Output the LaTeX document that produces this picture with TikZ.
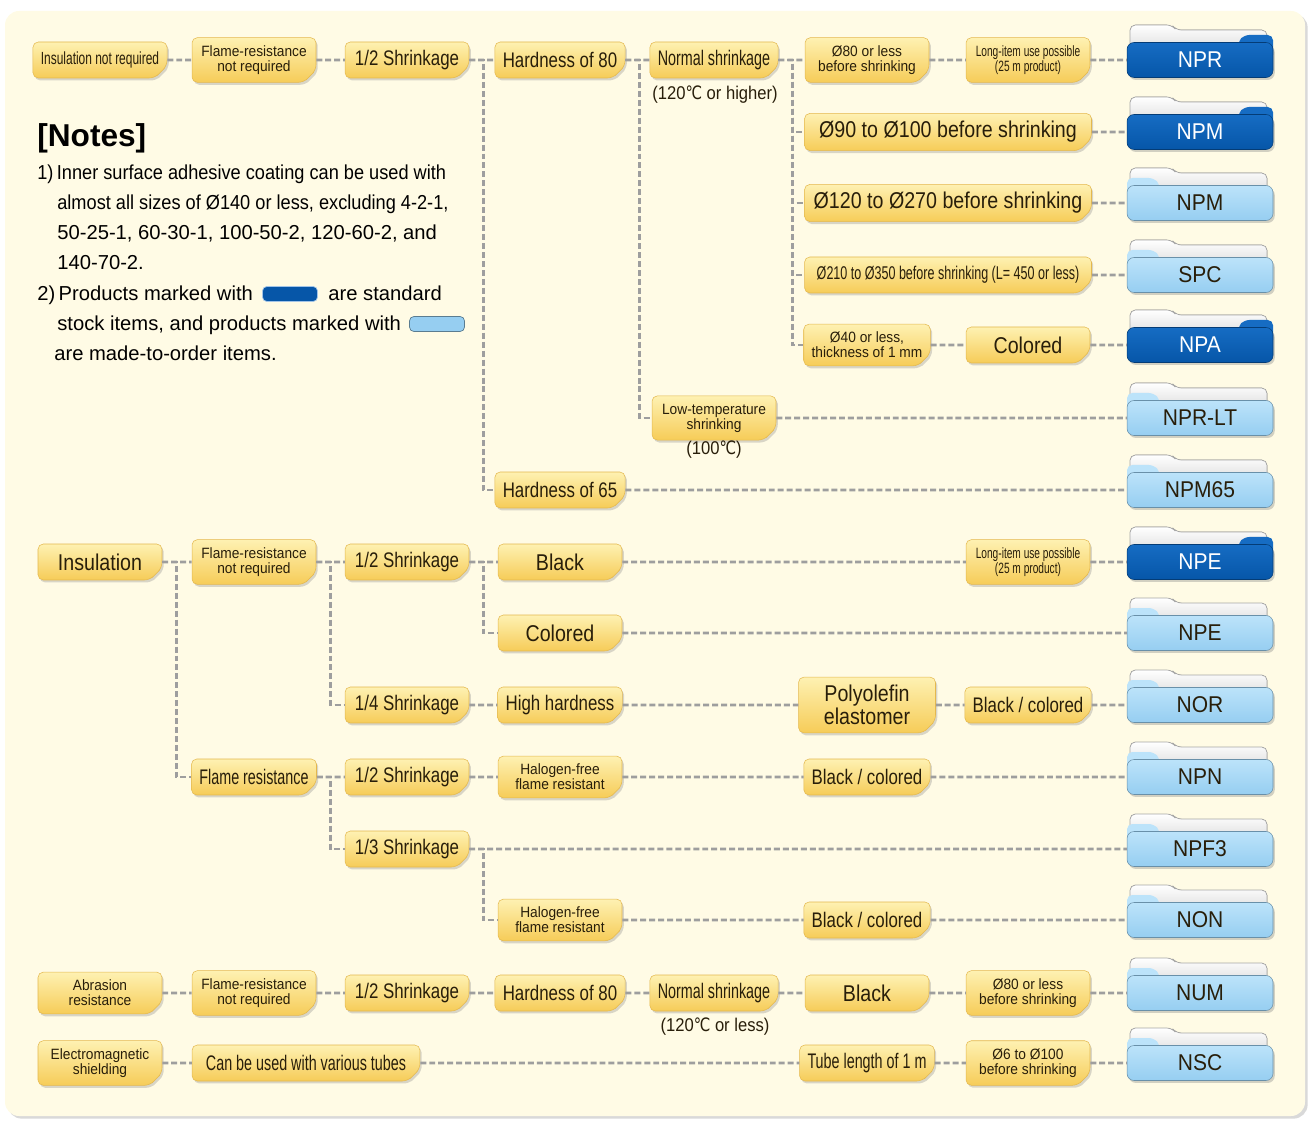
\documentclass[tikz,border=0pt]{standalone}
\usepackage{fontspec}
\setmainfont{Liberation Sans}
\newfontfamily\narrow[FakeStretch=0.8]{Liberation Sans}
\newfontfamily\xnarrow[FakeStretch=0.68]{Liberation Sans}
\newfontfamily\midfont[FakeStretch=0.86]{Liberation Sans}
\newfontfamily\smallfont[FakeStretch=0.92]{Liberation Sans}
\newfontfamily\notefont[FakeStretch=0.9]{Liberation Sans}
\newfontfamily\degfont[FakeStretch=0.8]{DejaVu Sans}
\usetikzlibrary{shapes.misc,shadows}

\definecolor{panel}{RGB}{255,251,229}
\definecolor{boxtop}{RGB}{254,241,178}
\definecolor{boxbot}{RGB}{246,204,88}
\definecolor{boxedge}{RGB}{228,184,78}
\definecolor{ink}{RGB}{40,30,10}
\definecolor{linkgray}{RGB}{158,158,158}
\definecolor{stocktop}{RGB}{22,108,195}
\definecolor{stockbot}{RGB}{6,86,168}
\definecolor{ordertop}{RGB}{188,227,250}
\definecolor{orderbot}{RGB}{150,206,241}

\def\degc{{\degfont ℃}}

\begin{document}
\begin{tikzpicture}[x=0.02cm,y=-0.02cm,
    link/.style={draw=linkgray,line width=1.6pt,dash pattern=on 3.4pt off 1.7pt},
    optbox/.style={chamfered rectangle,chamfered rectangle corners=south east,
      chamfered rectangle xsep=3.5pt,chamfered rectangle ysep=3.5pt,rounded corners=3pt,
      draw=boxedge,line width=0.3pt,top color=boxtop,bottom color=boxbot,
      minimum width=2.48cm,minimum height=0.72cm,inner sep=1pt,text=ink,align=center,
      font=\narrow\fontsize{12}{12}\selectfont,
      drop shadow={shadow xshift=1pt,shadow yshift=-1.4pt,opacity=0.3}},
    optmid/.style={optbox,font=\midfont\fontsize{13}{12}\selectfont},
    optthin/.style={optbox,font=\xnarrow\fontsize{12}{12}\selectfont},
    optsmall/.style={optbox,font=\smallfont\fontsize{8.5}{8.5}\selectfont},
    optxsmall/.style={optbox,font=\xnarrow\fontsize{8.5}{8.5}\selectfont},
    stockbox/.style={rectangle,rounded corners=4pt,draw=stockbot!70!black,line width=0.3pt,
      top color=stocktop,bottom color=stockbot,text=white,
      minimum width=2.92cm,minimum height=0.7cm,inner sep=0pt,
      font=\smallfont\fontsize{13}{13}\selectfont,
      drop shadow={shadow xshift=1pt,shadow yshift=-1.4pt,opacity=0.35}},
    orderbox/.style={stockbox,draw=orderbot!70!black,top color=ordertop,bottom color=orderbot,
      text=ink},
    notetext/.style={anchor=base west,inner sep=0pt,font=\fontsize{11.5}{11.5}\selectfont},
    tempnote/.style={inner sep=0pt,text=ink,font=\notefont\fontsize{10.5}{10.5}\selectfont}]

  \def\backsheet(#1,#2){
    \filldraw[draw=black!35,line width=0.4pt,top color=white,bottom color=black!18,rounded corners=3pt]
      (#1-70,#2) -- (#1-70,#2-35) -- (#1-28,#2-35) -- (#1-24,#2-30) -- (#1+67,#2-30) -- (#1+67,#2) -- cycle;
  }
  \def\stockitem(#1,#2)#3#4{
    \backsheet(#1,#2)
    \fill[stocktop,rounded corners=3pt]
      (#1+38,#2) -- (#1+38,#2-18) -- (#1+44,#2-25) -- (#1+73,#2-25) -- (#1+73,#2) -- cycle;
    \node[stockbox] (#3) at (#1,#2) {#4};
  }
  \def\orderitem(#1,#2)#3#4{
    \backsheet(#1,#2)
    \fill[ordertop,rounded corners=3pt]
      (#1-73,#2) -- (#1-73,#2-25) -- (#1-46,#2-25) -- (#1-40,#2-18) -- (#1-40,#2) -- cycle;
    \node[orderbox] (#3) at (#1,#2) {#4};
  }

  \useasboundingbox (0,0) rectangle (1311,1124);
  \fill[panel,rounded corners=8pt,drop shadow={shadow xshift=1.5pt,shadow yshift=-1.5pt,opacity=0.3}]
    (5,11) rectangle (1305,1116);

  % notes
  \node[notetext,font=\bfseries\fontsize{18}{18}\selectfont] (notes) at (37,147) {[Notes]};
  \node[notetext,font=\notefont\fontsize{11.5}{11.5}\selectfont] (n1) at (37,180) {1)\,Inner surface adhesive coating can be used with};
  \node[notetext,font=\notefont\fontsize{11.5}{11.5}\selectfont] (n2) at (57,210) {almost all sizes of Ø140 or less, excluding 4-2-1,};
  \node[notetext] (n3) at (57,240) {50-25-1, 60-30-1, 100-50-2, 120-60-2, and};
  \node[notetext] (n4) at (57,270) {140-70-2.};
  \node[notetext] (n5) at (37,301) {2)\,Products marked with};
  \node[notetext] (n5b) at (328,301) {are standard};
  \node[notetext] (n6) at (57,331) {stock items, and products marked with};
  \node[notetext] (n7) at (54,361) {are made-to-order items.};
  \node[rectangle,rounded corners=2.5pt,draw=white!60!stocktop,fill=stockbot,
    minimum width=1.1cm,minimum height=0.3cm,inner sep=0pt] (mk1) at (290,294) {};
  \node[rectangle,rounded corners=2.5pt,draw=orderbot!60!black,fill=orderbot,
    minimum width=1.1cm,minimum height=0.3cm,inner sep=0pt] (mk2) at (437,324) {};

  % insulation not required
  \node[optthin,font=\xnarrow\fontsize{10}{10}\selectfont] (ins1) at (100,60) {Insulation not required};
  \node[optsmall] (flr1) at (254,60) {Flame-resistance\\not required};
  \node[optbox] (sh1) at (407,60) {1/2 Shrinkage};
  \node[optbox] (h80) at (560,60) {Hardness of 80};
  \node[optthin] (norm) at (714,60) {Normal shrinkage};
  \node[tempnote] (t1) at (715,95) {(120\degc\ or higher)};
  \node[optsmall] (d80) at (867,60) {Ø80 or less\\before shrinking};
  \node[optxsmall] (long1) at (1028,60) {Long-item use possible\\(25 m product)};
  \stockitem(1200,60){npr}{NPR}

  \node[optmid,minimum width=5.74cm] (d90) at (948,132) {Ø90 to Ø100 before shrinking};
  \stockitem(1200,132){npm1}{NPM}
  \node[optmid,minimum width=5.74cm] (d120) at (948,203) {Ø120 to Ø270 before shrinking};
  \orderitem(1200,203){npm2}{NPM}
  \node[optthin,minimum width=5.74cm,font=\xnarrow\fontsize{10.5}{10.5}\selectfont] (d210) at (948,275)
    {Ø210 to Ø350 before shrinking (L= 450 or less)};
  \orderitem(1200,275){spc}{SPC}
  \node[optsmall] (d40) at (867,345) {Ø40 or less,\\thickness of 1 mm};
  \node[optmid] (col1) at (1028,345) {Colored};
  \stockitem(1200,345){npa}{NPA}
  \node[optsmall] (low) at (714,418) {Low-temperature\\shrinking};
  \node[tempnote] (t2) at (714,450) {(100\degc)};
  \orderitem(1200,418){nprlt}{NPR-LT}
  \node[optbox] (h65) at (560,490) {Hardness of 65};
  \orderitem(1200,490){npm65}{NPM65}

  % insulation
  \node[optmid] (ins2) at (100,562) {Insulation};
  \node[optsmall] (flr2) at (254,562) {Flame-resistance\\not required};
  \node[optbox] (sh2) at (407,562) {1/2 Shrinkage};
  \node[optmid] (blk1) at (560,562) {Black};
  \node[optxsmall] (long2) at (1028,562) {Long-item use possible\\(25 m product)};
  \stockitem(1200,562){npe1}{NPE}
  \node[optmid] (col2) at (560,633) {Colored};
  \orderitem(1200,633){npe2}{NPE}
  \node[optbox] (sh4) at (407,705) {1/4 Shrinkage};
  \node[optbox] (hh) at (560,705) {High hardness};
  \node[optmid,minimum width=2.74cm,minimum height=1.04cm] (poe) at (867,705) {Polyolefin\\elastomer};
  \node[optbox] (bc1) at (1028,705) {Black / colored};
  \orderitem(1200,705){nor}{NOR}
  \node[optthin] (fr) at (254,777) {Flame resistance};
  \node[optbox] (sh5) at (407,777) {1/2 Shrinkage};
  \node[optsmall] (hf1) at (560,777) {Halogen-free\\flame resistant};
  \node[optbox] (bc2) at (867,777) {Black / colored};
  \orderitem(1200,777){npn}{NPN}
  \node[optbox] (sh3) at (407,849) {1/3 Shrinkage};
  \orderitem(1200,849){npf3}{NPF3}
  \node[optsmall] (hf2) at (560,920) {Halogen-free\\flame resistant};
  \node[optbox] (bc3) at (867,920) {Black / colored};
  \orderitem(1200,920){non}{NON}

  % abrasion resistance, shielding
  \node[optsmall] (abr) at (100,993) {Abrasion\\resistance};
  \node[optsmall] (flr3) at (254,993) {Flame-resistance\\not required};
  \node[optbox] (sh6) at (407,993) {1/2 Shrinkage};
  \node[optbox] (h80b) at (560,993) {Hardness of 80};
  \node[optthin] (norm2) at (714,993) {Normal shrinkage};
  \node[tempnote] (t3) at (715,1027) {(120\degc\ or less)};
  \node[optmid] (blk2) at (867,993) {Black};
  \node[optsmall] (d80b) at (1028,993) {Ø80 or less\\before shrinking};
  \orderitem(1200,993){num}{NUM}
  \node[optsmall] (ems) at (100,1063) {Electromagnetic\\shielding};
  \node[optthin,minimum width=4.56cm] (tubes) at (306,1063) {Can be used with various tubes};
  \node[optthin] (tl) at (867,1063) {Tube length of 1 m};
  \node[optsmall] (d6) at (1028,1063) {Ø6 to Ø100\\before shrinking};
  \orderitem(1200,1063){nsc}{NSC}

  % connectors
  \foreach \a/\b in {ins1/flr1,flr1/sh1,sh1/h80,h80/norm,norm/d80,d80/long1,long1/npr,
      d90/npm1,d120/npm2,d210/spc,d40/col1,col1/npa,low/nprlt,h65/npm65,
      ins2/flr2,flr2/sh2,sh2/blk1,blk1/long2,long2/npe1,col2/npe2,
      sh4/hh,hh/poe,poe/bc1,bc1/nor,fr/sh5,sh5/hf1,hf1/bc2,bc2/npn,sh3/npf3,hf2/bc3,bc3/non,
      abr/flr3,flr3/sh6,sh6/h80b,h80b/norm2,norm2/blk2,blk2/d80b,d80b/num,
      ems/tubes,tubes/tl,tl/d6,d6/nsc}
    \draw[link] (\a) -- (\b);
  \foreach \a/\b in {sh1/h65,h80/low,norm/d90,norm/d120,norm/d210,norm/d40,
      ins2/fr,flr2/sh4,sh2/col2,fr/sh3,sh3/hf2}
    \draw[link] (\a.east) -- ++(14,0) |- (\b.west);
\end{tikzpicture}
\end{document}
